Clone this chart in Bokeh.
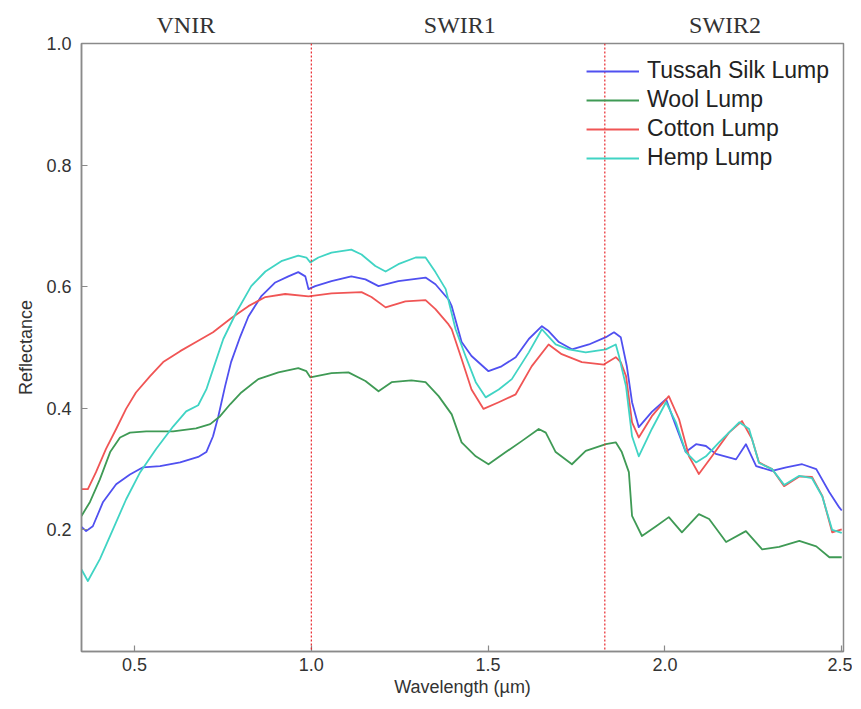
from bokeh.plotting import figure
from bokeh.models import (FixedTicker, Span, Legend, LegendItem, Range1d, LinearAxis,
                          NumeralTickFormatter)
from bokeh.embed import file_html
from bokeh.resources import INLINE

# ---- data ----
silk_wl = [0.35, 0.363, 0.382, 0.411, 0.448, 0.487, 0.524, 0.572, 0.629, 0.68, 0.703, 0.722, 0.737, 0.756,
           0.773, 0.799, 0.822, 0.858, 0.898, 0.935, 0.963, 0.983, 0.992, 1.011, 1.057, 1.113, 1.153, 1.19,
           1.246, 1.323, 1.351, 1.388, 1.397, 1.425, 1.453, 1.501, 1.538, 1.578, 1.615, 1.652, 1.671, 1.70,
           1.737, 1.785, 1.833, 1.856, 1.875, 1.892, 1.907, 1.926, 1.963, 2.003, 2.031, 2.059, 2.088, 2.116,
           2.144, 2.201, 2.229, 2.258, 2.303, 2.343, 2.388, 2.428, 2.465, 2.493, 2.50]
silk_r = [0.205, 0.198, 0.206, 0.246, 0.275, 0.291, 0.303, 0.305, 0.311, 0.32, 0.328, 0.354, 0.387, 0.436,
          0.476, 0.518, 0.551, 0.584, 0.607, 0.617, 0.624, 0.617, 0.596, 0.601, 0.609, 0.617, 0.612, 0.601,
          0.609, 0.615, 0.604, 0.579, 0.568, 0.509, 0.486, 0.461, 0.469, 0.484, 0.514, 0.535, 0.527, 0.509,
          0.497, 0.505, 0.517, 0.525, 0.517, 0.47, 0.41, 0.369, 0.394, 0.415, 0.371, 0.328, 0.341, 0.338,
          0.325, 0.316, 0.341, 0.305, 0.297, 0.303, 0.308, 0.30, 0.262, 0.237, 0.232]

wool_wl = [0.35, 0.374, 0.402, 0.431, 0.459, 0.487, 0.533, 0.609, 0.674, 0.714, 0.742, 0.771, 0.802, 0.85,
           0.907, 0.963, 0.986, 0.997, 1.057, 1.105, 1.153, 1.19, 1.227, 1.283, 1.323, 1.36, 1.397, 1.425,
           1.465, 1.501, 1.55, 1.595, 1.643, 1.663, 1.691, 1.737, 1.776, 1.833, 1.861, 1.878, 1.898, 1.907,
           1.935, 1.975, 2.011, 2.048, 2.096, 2.125, 2.173, 2.229, 2.275, 2.323, 2.38, 2.428, 2.465, 2.50]
wool_r = [0.223, 0.246, 0.283, 0.328, 0.352, 0.36, 0.362, 0.362, 0.367, 0.374, 0.387, 0.407, 0.426, 0.448,
          0.459, 0.466, 0.461, 0.451, 0.458, 0.459, 0.445, 0.428, 0.443, 0.446, 0.443, 0.42, 0.39, 0.344,
          0.321, 0.308, 0.328, 0.346, 0.366, 0.36, 0.328, 0.308, 0.33, 0.341, 0.344, 0.328, 0.295, 0.223,
          0.19, 0.206, 0.221, 0.196, 0.226, 0.218, 0.18, 0.198, 0.168, 0.172, 0.182, 0.173, 0.155, 0.155]

cotton_wl = [0.35, 0.368, 0.391, 0.419, 0.448, 0.476, 0.504, 0.544, 0.581, 0.629, 0.674, 0.722, 0.773, 0.822,
             0.87, 0.926, 0.992, 1.057, 1.142, 1.17, 1.21, 1.266, 1.323, 1.351, 1.388, 1.397, 1.425, 1.453,
             1.487, 1.53, 1.578, 1.623, 1.671, 1.708, 1.765, 1.827, 1.861, 1.875, 1.89, 1.907, 1.926, 1.963,
             2.011, 2.04, 2.068, 2.096, 2.133, 2.181, 2.218, 2.246, 2.266, 2.303, 2.337, 2.38, 2.416, 2.445,
             2.473, 2.50]
cotton_r = [0.267, 0.267, 0.295, 0.333, 0.366, 0.399, 0.426, 0.453, 0.476, 0.494, 0.509, 0.525, 0.548, 0.568,
            0.583, 0.588, 0.584, 0.589, 0.591, 0.583, 0.566, 0.576, 0.578, 0.563, 0.538, 0.53, 0.481, 0.431,
            0.399, 0.41, 0.423, 0.469, 0.505, 0.489, 0.476, 0.472, 0.484, 0.476, 0.453, 0.377, 0.352, 0.387,
            0.42, 0.382, 0.321, 0.292, 0.321, 0.36, 0.379, 0.35, 0.311, 0.30, 0.272, 0.288, 0.287, 0.256,
            0.196, 0.201]

hemp_wl = [0.35, 0.368, 0.402, 0.439, 0.476, 0.516, 0.561, 0.609, 0.646, 0.68, 0.703, 0.722, 0.751, 0.788,
           0.83, 0.87, 0.915, 0.963, 0.986, 0.997, 1.02, 1.057, 1.113, 1.142, 1.181, 1.21, 1.246, 1.295,
           1.323, 1.351, 1.38, 1.408, 1.436, 1.465, 1.493, 1.53, 1.567, 1.615, 1.652, 1.691, 1.728, 1.776,
           1.833, 1.861, 1.87, 1.89, 1.907, 1.926, 1.963, 2.003, 2.031, 2.059, 2.088, 2.116, 2.153, 2.21,
           2.238, 2.266, 2.303, 2.337, 2.38, 2.416, 2.445, 2.473, 2.50]
hemp_r = [0.135, 0.116, 0.152, 0.201, 0.25, 0.295, 0.333, 0.37, 0.395, 0.405, 0.431, 0.464, 0.514, 0.558,
          0.601, 0.625, 0.642, 0.651, 0.648, 0.64, 0.648, 0.656, 0.661, 0.653, 0.634, 0.625, 0.637, 0.648,
          0.648, 0.624, 0.596, 0.53, 0.486, 0.443, 0.418, 0.431, 0.448, 0.492, 0.53, 0.505, 0.497, 0.492,
          0.497, 0.505, 0.486, 0.436, 0.354, 0.321, 0.366, 0.41, 0.377, 0.328, 0.311, 0.321, 0.344, 0.377,
          0.366, 0.31, 0.30, 0.274, 0.289, 0.285, 0.255, 0.20, 0.195]

series_names = ["Tussah Silk Lump", "Wool Lump", "Cotton Lump", "Hemp Lump"]
series_colors = ["#5050f0", "#3f9a55", "#f05555", "#40d4c4"]

region_bounds = [1.0, 1.83]
region_labels = ["VNIR", "SWIR1", "SWIR2"]
region_label_x = [0.645, 1.42, 2.17]

y_ticks = [0.2, 0.4, 0.6, 0.8, 1.0]
x_ticks = [0.5, 1.0, 1.5, 2.0, 2.5]

AX = "#8a8a8a"

# ---- figure ----
p = figure(width=852, height=700, output_backend="svg", toolbar_location=None,
           x_range=Range1d(0.35, 2.505), y_range=Range1d(0.0, 1.0),
           min_border_left=81, min_border_right=9, min_border_top=43, min_border_bottom=49)
p.xgrid.visible = False
p.ygrid.visible = False
p.outline_line_color = AX
p.outline_line_width = 1.5

for ax in (p.xaxis[0], p.yaxis[0]):
    ax.axis_line_color = AX
    ax.axis_line_width = 1.5
    ax.major_tick_line_color = AX
    ax.major_tick_line_width = 1.2
    ax.major_tick_in = 6
    ax.major_tick_out = 0
    ax.minor_tick_line_color = None
    ax.major_label_text_font = "Liberation Sans"
    ax.major_label_text_font_size = "18px"
    ax.major_label_text_color = "#333333"
    ax.axis_label_text_font = "Liberation Sans"
    ax.axis_label_text_font_size = "18px"
    ax.axis_label_text_font_style = "normal"
    ax.axis_label_text_color = "#333333"

p.xaxis.ticker = FixedTicker(ticks=x_ticks)
p.yaxis.ticker = FixedTicker(ticks=y_ticks)
p.xaxis.formatter = NumeralTickFormatter(format="0.0")
p.yaxis.formatter = NumeralTickFormatter(format="0.0")
p.xaxis.axis_label = "Wavelength (µm)"
p.yaxis.axis_label = "Reflectance"
p.xaxis.major_label_standoff = 6
p.xaxis.axis_label_standoff = 3
p.yaxis.major_label_standoff = 10
p.yaxis.axis_label_standoff = 7

# region names above the frame
region_axis = LinearAxis(ticker=FixedTicker(ticks=region_label_x),
                         major_label_overrides={x: t for x, t in zip(region_label_x, region_labels)})
region_axis.axis_line_color = None
region_axis.major_tick_line_color = None
region_axis.minor_tick_line_color = None
region_axis.major_label_text_font = "Liberation Serif"
region_axis.major_label_text_font_size = "24px"
region_axis.major_label_text_color = "#333333"
region_axis.major_label_standoff = 0
p.add_layout(region_axis, "above")

# region separators
for b in region_bounds:
    p.add_layout(Span(location=b, dimension="height", line_color="#e8262b",
                      line_dash="2 2", line_width=1.2))

xs = [silk_wl, wool_wl, cotton_wl, hemp_wl]
ys = [silk_r, wool_r, cotton_r, hemp_r]
items = []
for name, col, xv, yv in zip(series_names, series_colors, xs, ys):
    r = p.line(xv, yv, line_color=col, line_width=1.8, line_join="round")
    items.append(LegendItem(label=name, renderers=[r]))

legend = Legend(items=items, location="top_right", margin=14, padding=0,
                spacing=2, glyph_width=53, glyph_height=22, label_standoff=8,
                label_text_font="Liberation Sans", label_text_font_size="23px",
                label_text_color="#222222", border_line_alpha=0,
                background_fill_alpha=0)
p.add_layout(legend)

open("out.html", "w").write(file_html(p, INLINE))
